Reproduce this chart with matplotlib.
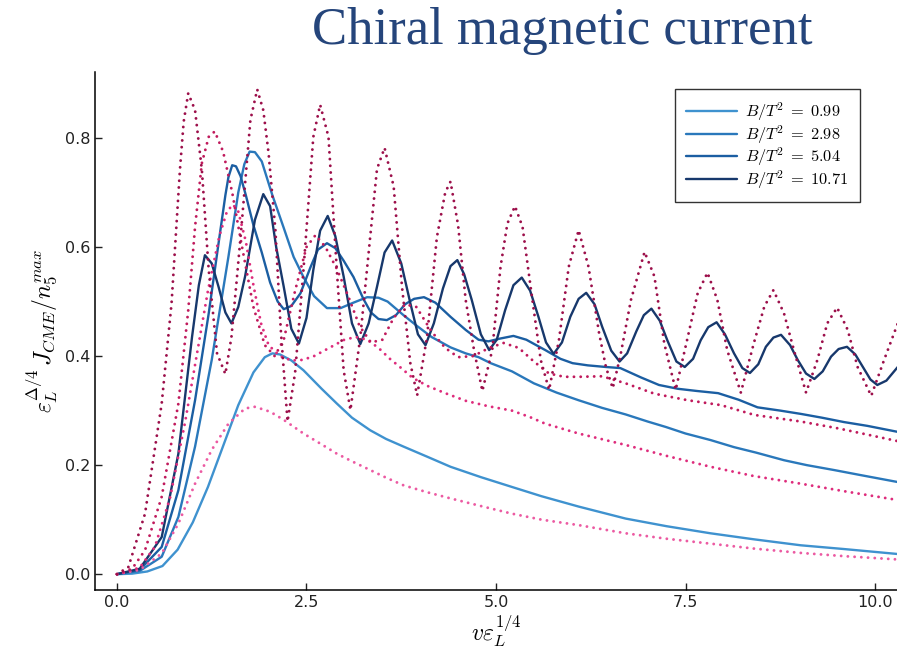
import matplotlib
matplotlib.use("Agg")
import matplotlib.pyplot as plt

plt.rcParams['mathtext.fontset'] = 'cm'

# ---- data ----
b_labels = ["0.99", "2.98", "5.04", "10.71"]

s099_x = [0, 0.2, 0.4, 0.6, 0.8, 1.0, 1.2, 1.4, 1.6, 1.8, 1.95, 2.05, 2.15, 2.3, 2.46, 2.7, 2.9, 3.1, 3.34, 3.55, 3.78, 4.1, 4.4, 4.8, 5.21, 5.6, 6.09, 6.71, 7.25, 7.83, 8.4, 9.02, 9.6, 10.3]
s099_y = [0, 0.001, 0.005, 0.015, 0.045, 0.095, 0.160, 0.235, 0.310, 0.370, 0.398, 0.405, 0.403, 0.392, 0.374, 0.340, 0.313, 0.287, 0.264, 0.248, 0.234, 0.215, 0.197, 0.178, 0.160, 0.143, 0.124, 0.102, 0.088, 0.075, 0.064, 0.053, 0.046, 0.037]

s298_x = [0, 0.3, 0.59, 0.81, 1.03, 1.25, 1.47, 1.60, 1.68, 1.75, 1.82, 1.91, 2.05, 2.20, 2.33, 2.46, 2.60, 2.77, 2.95, 3.12, 3.30, 3.45, 3.57, 3.78, 3.96, 4.15, 4.40, 4.60, 4.77, 4.93, 5.21, 5.50, 5.80, 6.09, 6.40, 6.71, 7.00, 7.24, 7.50, 7.83, 8.14, 8.43, 8.80, 9.10, 9.46, 9.80, 10.30]
s298_y = [0, 0.006, 0.032, 0.105, 0.234, 0.393, 0.582, 0.700, 0.752, 0.775, 0.774, 0.757, 0.695, 0.635, 0.582, 0.545, 0.510, 0.488, 0.488, 0.498, 0.508, 0.507, 0.500, 0.475, 0.455, 0.435, 0.416, 0.405, 0.398, 0.387, 0.372, 0.350, 0.333, 0.319, 0.305, 0.293, 0.280, 0.270, 0.258, 0.246, 0.233, 0.223, 0.209, 0.200, 0.191, 0.182, 0.169]

s504_x = [0, 0.3, 0.59, 0.81, 1.03, 1.21, 1.34, 1.43, 1.47, 1.52, 1.57, 1.63, 1.70, 1.80, 1.91, 2.02, 2.12, 2.20, 2.30, 2.42, 2.55, 2.65, 2.77, 2.88, 2.99, 3.12, 3.25, 3.35, 3.45, 3.56, 3.68, 3.80, 3.92, 4.05, 4.20, 4.40, 4.60, 4.77, 4.90, 5.05, 5.23, 5.40, 5.65, 5.85, 6.01, 6.21, 6.45, 6.64, 6.91, 7.15, 7.40, 7.65, 7.93, 8.20, 8.45, 8.75, 9.02, 9.30, 9.59, 9.90, 10.30]
s504_y = [0, 0.008, 0.050, 0.154, 0.319, 0.478, 0.607, 0.695, 0.728, 0.750, 0.748, 0.730, 0.695, 0.640, 0.590, 0.535, 0.500, 0.486, 0.492, 0.515, 0.562, 0.595, 0.607, 0.598, 0.575, 0.545, 0.505, 0.480, 0.468, 0.466, 0.475, 0.495, 0.505, 0.508, 0.498, 0.472, 0.448, 0.430, 0.427, 0.432, 0.437, 0.430, 0.411, 0.395, 0.387, 0.383, 0.380, 0.378, 0.361, 0.347, 0.340, 0.336, 0.332, 0.320, 0.306, 0.300, 0.294, 0.287, 0.279, 0.272, 0.261]

s1071_x = [0, 0.3, 0.59, 0.81, 0.99, 1.08, 1.16, 1.25, 1.34, 1.43, 1.51, 1.60, 1.69, 1.82, 1.93, 2.02, 2.10, 2.20, 2.30, 2.40, 2.50, 2.59, 2.68, 2.78, 2.88, 2.99, 3.10, 3.21, 3.32, 3.43, 3.53, 3.63, 3.75, 3.87, 3.97, 4.07, 4.18, 4.30, 4.40, 4.49, 4.58, 4.68, 4.80, 4.91, 5.01, 5.12, 5.23, 5.34, 5.45, 5.56, 5.66, 5.76, 5.87, 5.98, 6.09, 6.19, 6.30, 6.40, 6.52, 6.63, 6.73, 6.85, 6.95, 7.05, 7.16, 7.26, 7.38, 7.49, 7.60, 7.70, 7.80, 7.91, 8.02, 8.14, 8.25, 8.35, 8.46, 8.56, 8.66, 8.76, 8.88, 8.98, 9.09, 9.20, 9.31, 9.42, 9.52, 9.63, 9.74, 9.84, 9.94, 10.03, 10.15, 10.30]
s1071_y = [0, 0.01, 0.068, 0.221, 0.435, 0.530, 0.585, 0.570, 0.527, 0.480, 0.460, 0.490, 0.546, 0.650, 0.697, 0.675, 0.600, 0.527, 0.450, 0.423, 0.470, 0.558, 0.630, 0.657, 0.620, 0.546, 0.460, 0.422, 0.460, 0.527, 0.590, 0.612, 0.570, 0.497, 0.440, 0.420, 0.460, 0.524, 0.565, 0.576, 0.550, 0.503, 0.440, 0.411, 0.430, 0.484, 0.530, 0.544, 0.520, 0.472, 0.425, 0.404, 0.425, 0.472, 0.505, 0.516, 0.495, 0.454, 0.410, 0.390, 0.405, 0.445, 0.475, 0.487, 0.465, 0.429, 0.390, 0.380, 0.395, 0.429, 0.453, 0.462, 0.440, 0.405, 0.378, 0.369, 0.385, 0.417, 0.434, 0.439, 0.420, 0.393, 0.368, 0.358, 0.372, 0.399, 0.413, 0.417, 0.403, 0.380, 0.357, 0.347, 0.355, 0.380]

d099_x = [0, 0.3, 0.59, 0.81, 1.03, 1.25, 1.47, 1.69, 1.82, 2.02, 2.2, 2.46, 2.7, 2.90, 3.1, 3.34, 3.55, 3.78, 4.1, 4.40, 4.8, 5.21, 5.6, 6.09, 6.71, 7.25, 7.83, 8.4, 9.02, 9.6, 10.3]
d099_y = [0, 0.008, 0.038, 0.093, 0.166, 0.228, 0.276, 0.304, 0.307, 0.298, 0.283, 0.258, 0.238, 0.221, 0.207, 0.191, 0.177, 0.163, 0.150, 0.139, 0.125, 0.111, 0.100, 0.090, 0.075, 0.065, 0.056, 0.047, 0.039, 0.033, 0.027]

d298_x = [0, 0.3, 0.5, 0.7, 0.9, 1.05, 1.2, 1.35, 1.45, 1.53, 1.6, 1.7, 1.8, 1.9, 2.0, 2.15, 2.3, 2.45, 2.6, 2.8, 3.0, 3.15, 3.3, 3.45, 3.6, 3.75, 3.9, 4.1, 4.33, 4.6, 4.9, 5.21, 5.45, 5.65, 6.09, 6.71, 7.25, 7.83, 8.4, 9.02, 9.6, 10.3]
d298_y = [0, 0.012, 0.05, 0.14, 0.28, 0.40, 0.52, 0.62, 0.665, 0.678, 0.665, 0.61, 0.53, 0.46, 0.42, 0.40, 0.392, 0.393, 0.40, 0.415, 0.43, 0.435, 0.43, 0.415, 0.395, 0.378, 0.36, 0.345, 0.332, 0.318, 0.308, 0.300, 0.288, 0.276, 0.258, 0.237, 0.217, 0.197, 0.180, 0.166, 0.152, 0.136]

d504_x = [0, 0.2, 0.37, 0.59, 0.81, 0.94, 1.03, 1.12, 1.21, 1.29, 1.40, 1.52, 1.65, 1.80, 1.95, 2.08, 2.2, 2.35, 2.5, 2.62, 2.75, 2.9, 3.05, 3.2, 3.35, 3.5, 3.65, 3.8, 3.95, 4.15, 4.33, 4.5, 4.7, 4.91, 5.1, 5.3, 5.5, 5.7, 5.9, 6.1, 6.4, 6.71, 7.09, 7.53, 7.97, 8.41, 9.02, 9.53, 10.3]
d504_y = [0, 0.01, 0.044, 0.142, 0.313, 0.484, 0.637, 0.754, 0.802, 0.812, 0.775, 0.70, 0.60, 0.49, 0.42, 0.40, 0.43, 0.52, 0.60, 0.622, 0.60, 0.56, 0.51, 0.455, 0.425, 0.43, 0.47, 0.495, 0.49, 0.445, 0.415, 0.398, 0.40, 0.415, 0.424, 0.415, 0.39, 0.368, 0.362, 0.362, 0.363, 0.350, 0.331, 0.319, 0.310, 0.292, 0.280, 0.267, 0.244]

d1071_x = [0, 0.15, 0.37, 0.59, 0.72, 0.83, 0.88, 0.94, 1.03, 1.12, 1.21, 1.32, 1.43, 1.51, 1.58, 1.65, 1.76, 1.85, 1.93, 2.00, 2.09, 2.16, 2.25, 2.35, 2.46, 2.59, 2.68, 2.79, 2.90, 2.99, 3.08, 3.21, 3.34, 3.43, 3.53, 3.65, 3.76, 3.87, 3.96, 4.09, 4.22, 4.33, 4.40, 4.50, 4.60, 4.71, 4.82, 4.95, 5.06, 5.15, 5.25, 5.35, 5.48, 5.59, 5.70, 5.83, 5.96, 6.09, 6.22, 6.36, 6.45, 6.54, 6.64, 6.78, 6.96, 7.09, 7.22, 7.37, 7.52, 7.66, 7.79, 7.92, 8.05, 8.23, 8.40, 8.54, 8.66, 8.80, 8.93, 9.09, 9.24, 9.37, 9.50, 9.64, 9.77, 9.95, 10.12, 10.30]
d1071_y = [0, 0.013, 0.111, 0.313, 0.497, 0.741, 0.830, 0.882, 0.851, 0.741, 0.558, 0.405, 0.367, 0.435, 0.540, 0.650, 0.833, 0.889, 0.851, 0.772, 0.631, 0.450, 0.280, 0.370, 0.558, 0.802, 0.861, 0.802, 0.558, 0.374, 0.301, 0.435, 0.618, 0.743, 0.782, 0.711, 0.527, 0.387, 0.328, 0.435, 0.618, 0.700, 0.720, 0.640, 0.503, 0.411, 0.336, 0.411, 0.564, 0.643, 0.675, 0.637, 0.503, 0.393, 0.338, 0.429, 0.564, 0.631, 0.564, 0.442, 0.380, 0.341, 0.400, 0.503, 0.591, 0.546, 0.423, 0.338, 0.429, 0.515, 0.553, 0.503, 0.411, 0.333, 0.423, 0.491, 0.521, 0.478, 0.411, 0.333, 0.393, 0.460, 0.489, 0.448, 0.380, 0.327, 0.393, 0.460]

x_ticks = [0.0, 2.5, 5.0, 7.5, 10.0]
y_ticks = [0.0, 0.2, 0.4, 0.6, 0.8]

solid_colors = ["#3f92cf", "#2a78bb", "#1b5ea2", "#17386c"]
dot_colors = ["#ec5aa2", "#de2c7c", "#c01a5c", "#9c0f4a"]

solids = [(s099_x, s099_y), (s298_x, s298_y), (s504_x, s504_y), (s1071_x, s1071_y)]
dots = [(d099_x, d099_y), (d298_x, d298_y), (d504_x, d504_y), (d1071_x, d1071_y)]

fig = plt.figure(figsize=(8.97, 6.53), dpi=100)
ax = fig.add_axes([95/897, 63/653, (897-95)/897, (590-72)/653])

for (x, y), c, lab in zip(solids, solid_colors, b_labels):
    ax.plot(x, y, color=c, lw=1.7, label=r"$B/T^2\;=\;%s\;\;$" % lab,
            solid_joinstyle='round', solid_capstyle='round')
for (x, y), c in zip(dots, dot_colors):
    ax.plot(x, y, color=c, lw=2.1, linestyle=(0, (0.01, 2.3)), dash_capstyle='round')

ax.set_xlim(-0.29, 10.29)
ax.set_ylim(-0.029, 0.921)
ax.set_xticks(x_ticks)
ax.set_yticks(y_ticks)
ax.set_xticklabels(["%.1f" % v for v in x_ticks])
ax.set_yticklabels(["%.1f" % v for v in y_ticks])
ax.tick_params(direction='in', length=5, width=1, labelsize=11.5, colors='#222222')
for s in ['top', 'right']:
    ax.spines[s].set_visible(False)
for s in ['left', 'bottom']:
    ax.spines[s].set_linewidth(1.1)

ax.set_xlabel(r"$v\varepsilon_L^{1/4}$", fontsize=17, labelpad=2)
ax.set_ylabel(r"$\varepsilon_L^{\Delta/4}\, J_{CME}/n_5^{max}$", fontsize=17, labelpad=4)

leg = ax.legend(loc='upper left', bbox_to_anchor=((675-95)/(897-95), (590-89)/(590-72)),
                bbox_transform=ax.transAxes, borderaxespad=0,
                fontsize=11.8, frameon=True, fancybox=False, edgecolor='black',
                handlelength=3.1, handletextpad=0.5, borderpad=0.7, labelspacing=0.0)
leg.get_frame().set_linewidth(1.0)

fig.text(562/897, 1 - 31/653, "Chiral magnetic current", fontsize=38, family="Liberation Serif",
         color="#25457b", ha='center', va='center')

fig.savefig("out.png", dpi=100)
